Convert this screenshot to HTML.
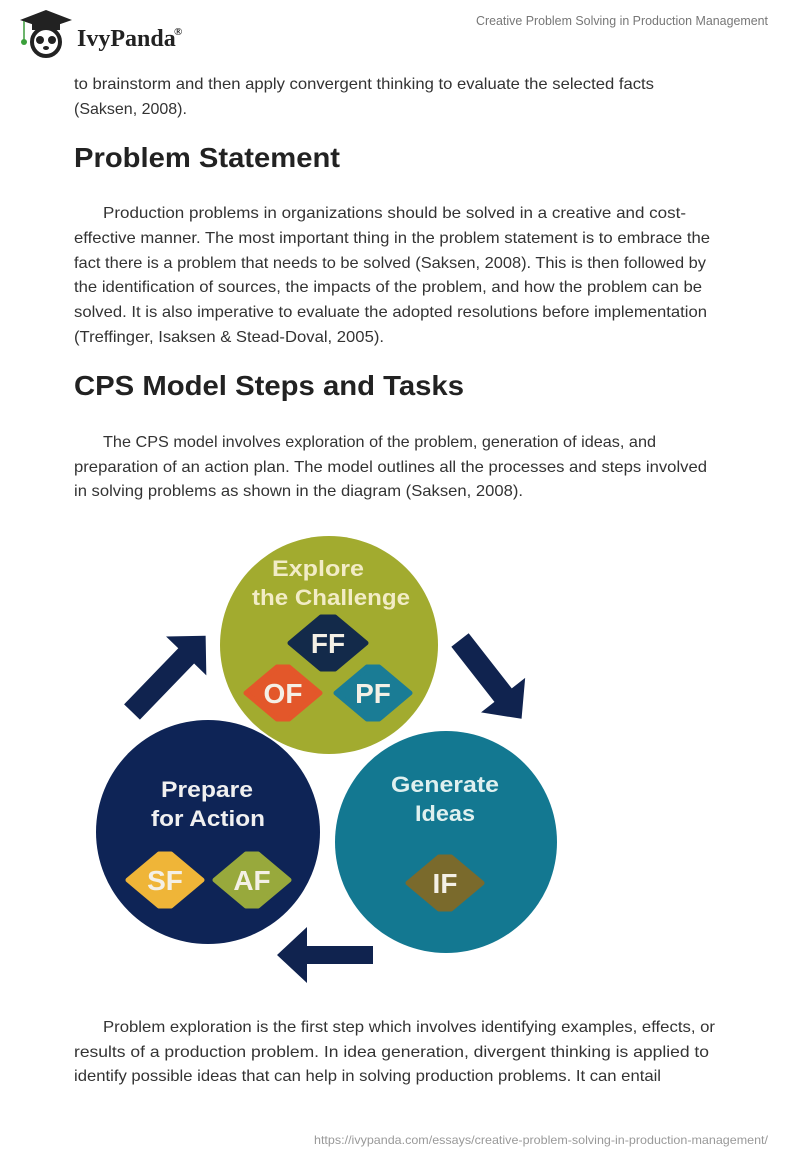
<!DOCTYPE html>
<html><head><meta charset="utf-8"><style>
html,body{margin:0;padding:0;background:#fff;}
svg{display:block;}
</style></head><body>
<svg width="800" height="1160" viewBox="0 0 800 1160" xmlns="http://www.w3.org/2000/svg">
<!-- logo -->
<g>
  <polygon points="20,20 46,10 72,20 46,29" fill="#222"/>
  <rect x="32" y="22" width="28" height="8" fill="#222"/>
  <line x1="24" y1="21" x2="24" y2="40" stroke="#3a9a3a" stroke-width="1.5"/>
  <circle cx="24" cy="42" r="3" fill="#3aa03a"/>
  <circle cx="46" cy="42" r="14" fill="#fff" stroke="#222" stroke-width="4"/>
  <circle cx="40" cy="40" r="4" fill="#222"/>
  <circle cx="52" cy="40" r="4" fill="#222"/>
  <ellipse cx="46" cy="48" rx="3" ry="2" fill="#222"/>
</g>
<text x="77" y="46" font-family="Liberation Serif, serif" font-weight="bold" font-size="24" fill="#222">IvyPanda</text>
<text x="174" y="35" font-family="Liberation Serif, serif" font-weight="bold" font-size="11" fill="#222">®</text>
<text x="768" y="25" text-anchor="end" font-family="Liberation Sans, sans-serif" font-size="13" fill="#777" textLength="292" lengthAdjust="spacingAndGlyphs">Creative Problem Solving in Production Management</text>

<g font-family="Liberation Sans, sans-serif" font-size="16" fill="#333">
<text x="74" y="89" textLength="580" lengthAdjust="spacingAndGlyphs">to brainstorm and then apply convergent thinking to evaluate the selected facts</text>
<text x="74" y="114">(Saksen, 2008).</text>
<text x="103" y="218" textLength="583" lengthAdjust="spacingAndGlyphs">Production problems in organizations should be solved in a creative and cost-</text>
<text x="74" y="243" textLength="636" lengthAdjust="spacingAndGlyphs">effective manner. The most important thing in the problem statement is to embrace the</text>
<text x="74" y="268" textLength="632" lengthAdjust="spacingAndGlyphs">fact there is a problem that needs to be solved (Saksen, 2008). This is then followed by</text>
<text x="74" y="292" textLength="628" lengthAdjust="spacingAndGlyphs">the identification of sources, the impacts of the problem, and how the problem can be</text>
<text x="74" y="317" textLength="633" lengthAdjust="spacingAndGlyphs">solved. It is also imperative to evaluate the adopted resolutions before implementation</text>
<text x="74" y="342" textLength="310" lengthAdjust="spacingAndGlyphs">(Treffinger, Isaksen &amp; Stead-Doval, 2005).</text>
<text x="103" y="447" textLength="553" lengthAdjust="spacingAndGlyphs">The CPS model involves exploration of the problem, generation of ideas, and</text>
<text x="74" y="472" textLength="633" lengthAdjust="spacingAndGlyphs">preparation of an action plan. The model outlines all the processes and steps involved</text>
<text x="74" y="496" textLength="449" lengthAdjust="spacingAndGlyphs">in solving problems as shown in the diagram (Saksen, 2008).</text>
<text x="103" y="1032" textLength="612" lengthAdjust="spacingAndGlyphs">Problem exploration is the first step which involves identifying examples, effects, or</text>
<text x="74" y="1057" textLength="635" lengthAdjust="spacingAndGlyphs">results of a production problem. In idea generation, divergent thinking is applied to</text>
<text x="74" y="1081" textLength="587" lengthAdjust="spacingAndGlyphs">identify possible ideas that can help in solving production problems. It can entail</text>
</g>
<g font-family="Liberation Sans, sans-serif" font-size="28" font-weight="bold" fill="#222">
<text x="74" y="167" textLength="266" lengthAdjust="spacingAndGlyphs">Problem Statement</text>
<text x="74" y="395" textLength="390" lengthAdjust="spacingAndGlyphs">CPS Model Steps and Tasks</text>
</g>
<text x="768" y="1144" text-anchor="end" font-family="Liberation Sans, sans-serif" font-size="12" fill="#999" textLength="454" lengthAdjust="spacingAndGlyphs">https://ivypanda.com/essays/creative-problem-solving-in-production-management/</text>

<!-- diagram -->
<circle cx="329" cy="645" r="109" fill="#a2ab2f"/>
<circle cx="208" cy="832" r="112" fill="#0e2456"/>
<circle cx="446" cy="842" r="111" fill="#137891"/>

<!-- arrows -->
<g fill="#10234f">
  <polygon transform="translate(132,712) rotate(-46)" points="0,-11 78,-11 78,-28 106,0 78,28 78,11 0,11"/>
  <polygon transform="translate(460,640) rotate(52)" points="0,-11 70,-11 70,-28 100,0 70,28 70,11 0,11"/>
  <polygon transform="translate(373,955) rotate(180)" points="0,-9 66,-9 66,-28 96,0 66,28 66,9 0,9"/>
</g>

<g font-family="Liberation Sans, sans-serif" font-weight="bold" text-anchor="middle">
  <text x="318" y="576" font-size="22" fill="#f2ecc6" textLength="92" lengthAdjust="spacingAndGlyphs">Explore</text>
  <text x="331" y="605" font-size="22" fill="#f2ecc6" textLength="158" lengthAdjust="spacingAndGlyphs">the Challenge</text>
  <text x="207" y="797" font-size="22" fill="#f0f0f0" textLength="92" lengthAdjust="spacingAndGlyphs">Prepare</text>
  <text x="208" y="826" font-size="22" fill="#f0f0f0" textLength="114" lengthAdjust="spacingAndGlyphs">for Action</text>
  <text x="445" y="792" font-size="22" fill="#dff0ef" textLength="108" lengthAdjust="spacingAndGlyphs">Generate</text>
  <text x="445" y="821" font-size="22" fill="#dff0ef" textLength="60" lengthAdjust="spacingAndGlyphs">Ideas</text>
</g>

<!-- diamonds -->
<g stroke-linejoin="round" stroke-width="5">
  <polygon points="290,643 321,617 335,617 366,643 335,669 321,669" fill="#132a4a" stroke="#132a4a"/>
  <polygon points="246,693 277,667 289,667 320,693 289,719 277,719" fill="#e3572a" stroke="#e3572a"/>
  <polygon points="336,693 367,667 379,667 410,693 379,719 367,719" fill="#1a7c95" stroke="#1a7c95"/>
  <polygon points="128,880 159,854 171,854 202,880 171,906 159,906" fill="#efb538" stroke="#efb538"/>
  <polygon points="215,880 246,854 258,854 289,880 258,906 246,906" fill="#98a93c" stroke="#98a93c"/>
  <polygon points="408,883 439,857 451,857 482,883 451,909 439,909" fill="#7a6a2c" stroke="#7a6a2c"/>
</g>
<g font-family="Liberation Sans, sans-serif" font-weight="bold" font-size="28" fill="#f4f0e6" text-anchor="middle">
  <text x="328" y="653">FF</text>
  <text x="283" y="703">OF</text>
  <text x="373" y="703">PF</text>
  <text x="165" y="890">SF</text>
  <text x="252" y="890">AF</text>
  <text x="445" y="893">IF</text>
</g>
</svg>
</body></html>
